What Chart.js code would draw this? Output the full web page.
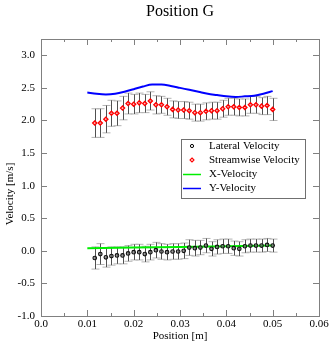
<!DOCTYPE html>
<html>
<head>
<meta charset="utf-8">
<script src="https://cdn.jsdelivr.net/npm/chart.js@4"></script>
<style>
  html, body { margin: 0; padding: 0; background: #fff; }
  #wrap { width: 332px; height: 347px; }
</style>
</head>
<body>
<div id="wrap"><canvas id="c" width="332" height="347"></canvas></div>
<script>
// --- DATA ---
const posX = [0.0116,0.0128,0.0140,0.0152,0.0164,0.0176,0.0188,0.0200,0.0212,0.0224,0.0236,0.0248,0.0260,0.0272,0.0284,0.0296,0.0308,0.0320,0.0332,0.0344,0.0356,0.0368,0.0380,0.0392,0.0404,0.0416,0.0428,0.0440,0.0452,0.0464,0.0476,0.0488,0.0500];
const lateral = [-0.11,-0.05,-0.10,-0.08,-0.07,-0.07,-0.04,-0.02,-0.02,-0.05,-0.02,0.01,-0.01,-0.02,-0.01,-0.01,0.00,0.05,0.04,0.05,0.08,0.03,0.06,0.07,0.07,0.04,0.03,0.07,0.08,0.08,0.08,0.09,0.08];
const lateralErr = [0.17,0.16,0.15,0.14,0.13,0.13,0.12,0.12,0.12,0.12,0.12,0.12,0.12,0.12,0.12,0.12,0.12,0.12,0.12,0.11,0.11,0.11,0.11,0.11,0.11,0.11,0.11,0.10,0.10,0.10,0.10,0.10,0.10];
const streamwise = [1.96,1.96,2.02,2.11,2.11,2.19,2.26,2.25,2.27,2.26,2.30,2.24,2.24,2.21,2.17,2.16,2.16,2.15,2.12,2.12,2.14,2.15,2.15,2.18,2.21,2.21,2.20,2.20,2.24,2.24,2.22,2.23,2.17];
const streamErr = [0.22,0.22,0.21,0.20,0.19,0.18,0.16,0.15,0.15,0.14,0.14,0.14,0.13,0.13,0.13,0.13,0.13,0.13,0.13,0.13,0.13,0.13,0.13,0.13,0.13,0.13,0.13,0.13,0.13,0.13,0.13,0.14,0.17];
const xVelX = [0.010,0.020,0.030,0.040,0.050];
const xVel = [0.04,0.05,0.06,0.07,0.08];
const yVelX = [0.010,0.012,0.014,0.016,0.018,0.020,0.022,0.024,0.026,0.028,0.030,0.032,0.034,0.036,0.038,0.040,0.042,0.044,0.046,0.048,0.050];
const yVel = [2.43,2.41,2.40,2.41,2.44,2.48,2.52,2.55,2.55,2.53,2.50,2.47,2.44,2.41,2.39,2.37,2.36,2.37,2.38,2.41,2.45];
const xTicks = [0,0.01,0.02,0.03,0.04,0.05,0.06];
const xMinor = [0.005,0.015,0.025,0.035,0.045,0.055];
const yTicks = [-1,-0.5,0,0.5,1,1.5,2,2.5,3];
const legendLabels = ['Lateral Velocity','Streamwise Velocity','X-Velocity','Y-Velocity'];

const SERIF = '"Liberation Serif", "Times New Roman", serif';
const pts = (xs, ys) => xs.map((x, i) => ({ x, y: ys[i] }));

// error bars + frame + inward ticks + titles + legend
const decor = {
  id: 'decor',
  beforeDatasetsDraw(chart) {
    const { ctx, scales: { x, y } } = chart;
    const bars = [[lateral, lateralErr], [streamwise, streamErr]];
    ctx.save();
    bars.forEach(([vals, errs]) => {
      vals.forEach((v, i) => {
        const px = Math.round(x.getPixelForValue(posX[i])) + 0.5;
        const yt = y.getPixelForValue(v + errs[i]);
        const yb = y.getPixelForValue(v - errs[i]);
        ctx.strokeStyle = '#b4b4b4';
        ctx.lineWidth = 1;
        ctx.beginPath();
        ctx.moveTo(px - 4, yt); ctx.lineTo(px + 4, yt);
        ctx.moveTo(px - 4, yb); ctx.lineTo(px + 4, yb);
        ctx.stroke();
        ctx.strokeStyle = '#505050';
        ctx.beginPath();
        ctx.moveTo(px, yt); ctx.lineTo(px, yb);
        ctx.stroke();
      });
    });
    ctx.restore();
  },
  afterDraw(chart) {
    const { ctx, chartArea: a, scales: { x, y } } = chart;
    ctx.save();
    // frame
    ctx.strokeStyle = '#808080';
    ctx.lineWidth = 1;
    ctx.strokeRect(Math.round(a.left) + 0.5, Math.round(a.top) + 0.5, Math.round(a.right - a.left), Math.round(a.bottom - a.top));
    // ticks
    ctx.beginPath();
    xTicks.forEach(t => {
      const px = Math.round(x.getPixelForValue(t)) + 0.5;
      ctx.moveTo(px, a.bottom); ctx.lineTo(px, a.bottom - 6);
      ctx.moveTo(px, a.top); ctx.lineTo(px, a.top + 6);
    });
    xMinor.forEach(t => {
      const px = Math.round(x.getPixelForValue(t)) + 0.5;
      ctx.moveTo(px, a.bottom); ctx.lineTo(px, a.bottom - 3);
      ctx.moveTo(px, a.top); ctx.lineTo(px, a.top + 3);
    });
    yTicks.forEach(t => {
      const py = Math.round(y.getPixelForValue(t)) + 0.5;
      ctx.moveTo(a.left, py); ctx.lineTo(a.left + 6, py);
      ctx.moveTo(a.right, py); ctx.lineTo(a.right - 6, py);
    });
    ctx.stroke();

    // titles
    ctx.fillStyle = '#000';
    ctx.textAlign = 'center';
    ctx.textBaseline = 'middle';
    ctx.font = '16px ' + SERIF;
    ctx.fillText('Position G', (a.left + a.right) / 2, 12);
    ctx.font = '11px ' + SERIF;
    ctx.fillText('Position [m]', (a.left + a.right) / 2, 336);
    ctx.save();
    ctx.translate(10, 194);
    ctx.rotate(-Math.PI / 2);
    ctx.fillText('Velocity [m/s]', 0, 0);
    ctx.restore();

    // legend
    const lx = 181, ly = 139, lw = 124, lh = 59;
    ctx.fillStyle = '#fff';
    ctx.fillRect(lx, ly, lw, lh);
    ctx.strokeStyle = '#707070';
    ctx.strokeRect(lx + 0.5, ly + 0.5, lw, lh);
    const rows = [146, 160, 174, 188];
    ctx.textAlign = 'left';
    ctx.font = '11px ' + SERIF;
    legendLabels.forEach((lbl, i) => {
      const ry = rows[i];
      const ds = chart.data.datasets[i];
      if (i === 0) {
        ctx.strokeStyle = '#000'; ctx.lineWidth = 1;
        ctx.beginPath(); ctx.arc(192, ry, 1.6, 0, Math.PI * 2); ctx.stroke();
      } else if (i === 1) {
        ctx.strokeStyle = '#ff0000'; ctx.lineWidth = 1.1;
        ctx.beginPath();
        ctx.moveTo(192, ry - 2); ctx.lineTo(194, ry); ctx.lineTo(192, ry + 2); ctx.lineTo(190, ry); ctx.closePath();
        ctx.stroke();
      } else {
        ctx.strokeStyle = ds.borderColor; ctx.lineWidth = 1.5;
        ctx.beginPath(); ctx.moveTo(183, ry + 0.5); ctx.lineTo(201, ry + 0.5); ctx.stroke();
      }
      ctx.fillStyle = '#000';
      ctx.fillText(lbl, 209, ry + 0.5);
    });
    ctx.restore();
  }
};

new Chart(document.getElementById('c'), {
  type: 'scatter',
  data: {
    datasets: [
      { label: legendLabels[0], data: pts(posX, lateral), pointStyle: 'circle', pointRadius: 1.8, borderColor: '#111', backgroundColor: 'rgba(110,110,110,0.7)', borderWidth: 1.1, order: 2 },
      { label: legendLabels[1], data: pts(posX, streamwise), pointStyle: 'rectRot', pointRadius: 2.1, borderColor: '#ff0000', backgroundColor: 'rgba(255,170,170,0.8)', borderWidth: 1.3, order: 3 },
      { label: legendLabels[2], data: pts(xVelX, xVel), showLine: true, pointRadius: 0, borderColor: '#00ee00', borderWidth: 2, order: 4 },
      { label: legendLabels[3], data: pts(yVelX, yVel), showLine: true, pointRadius: 0, borderColor: '#0000ff', borderWidth: 2, cubicInterpolationMode: 'monotone', order: 1 }
    ]
  },
  options: {
    responsive: false,
    animation: false,
    devicePixelRatio: 1,
    layout: { padding: { top: 39, right: 13, left: 0, bottom: 0 } },
    plugins: { legend: { display: false }, tooltip: { enabled: false }, title: { display: false } },
    scales: {
      x: {
        type: 'linear', min: 0, max: 0.06,
        afterFit: s => { s.height = 31; },
        afterBuildTicks: s => { s.ticks = xTicks.map(v => ({ value: v })); },
        grid: { display: false, drawTicks: false },
        border: { display: false },
        ticks: { padding: 2, color: '#000', font: { family: SERIF, size: 11 }, maxRotation: 0, autoSkip: false,
          callback: v => v === 0 ? '0.0' : v.toFixed(2) }
      },
      y: {
        type: 'linear', min: -1, max: 3.25,
        afterFit: s => { s.width = 41; },
        afterBuildTicks: s => { s.ticks = yTicks.map(v => ({ value: v })); },
        grid: { display: false, drawTicks: false },
        border: { display: false },
        ticks: { padding: 6, color: '#000', font: { family: SERIF, size: 11 }, autoSkip: false,
          callback: v => v.toFixed(1) }
      }
    }
  },
  plugins: [decor]
});
</script>
</body>
</html>
